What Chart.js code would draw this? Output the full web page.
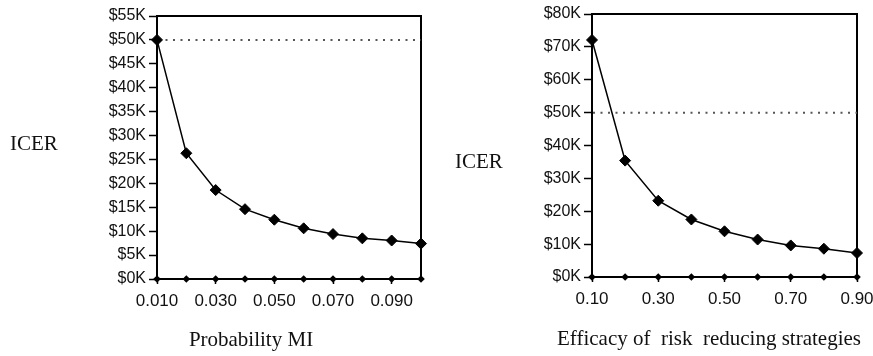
<!DOCTYPE html>
<html>
<head>
<meta charset="utf-8">
<script src="https://cdn.jsdelivr.net/npm/chart.js@4.4.1/dist/chart.umd.min.js"></script>
<style>
  html, body { margin: 0; padding: 0; background: #fff; }
  #wrap { position: relative; width: 873px; height: 356px; overflow: hidden; background: #fff; }
  canvas { position: absolute; top: 0; }
  .lbl {
    position: absolute; font-family: "Liberation Serif", "Times New Roman", serif;
    font-size: 21px; line-height: 1; color: #111; white-space: nowrap;
  }
  .ctr { transform: translateX(-50%); }
</style>
</head>
<body>
<div id="wrap">
  <canvas id="chartMI" width="436" height="356" style="left:0px"></canvas>
  <canvas id="chartEff" width="437" height="356" style="left:436px"></canvas>
  <div class="lbl" style="left:10px; top:133px;">ICER</div>
  <div class="lbl" style="left:455px; top:151px;">ICER</div>
  <div class="lbl ctr" style="left:251px; top:329px;">Probability MI</div>
  <div class="lbl ctr" style="left:709px; top:328px;">Efficacy of&nbsp; risk&nbsp; reducing strategies</div>
</div>
<script>
// Sensitivity of ICER to the probability of MI
const probLabels = ['0.010', '0.020', '0.030', '0.040', '0.050', '0.060', '0.070', '0.080', '0.090', '0.100'];
const icerByProb = [50000, 26300, 18600, 14600, 12400, 10600, 9400, 8500, 8050, 7400];
const baselineByProb = [0, 0, 0, 0, 0, 0, 0, 0, 0, 0];

// Sensitivity of ICER to the efficacy of risk reducing strategies
const efficacyLabels = ['0.10', '0.20', '0.30', '0.40', '0.50', '0.60', '0.70', '0.80', '0.90'];
const icerByEfficacy = [72100, 35400, 23200, 17500, 13900, 11400, 9600, 8600, 7300];
const baselineByEfficacy = [0, 0, 0, 0, 0, 0, 0, 0, 0];

// Willingness-to-pay threshold
const wtpThreshold = 50000;

const yTicksMI = { max: 55000, step: 5000 };
const yTicksEff = { max: 80000, step: 10000 };

const yFont = { family: '"Liberation Sans", Arial, sans-serif', size: 16 };
const xFont = { family: '"Liberation Sans", Arial, sans-serif', size: 17 };

// Closes the plot frame on the top and right sides
const framePlugin = {
  id: 'frame',
  beforeDatasetsDraw(chart) {
    const { ctx, chartArea: a } = chart;
    ctx.save();
    ctx.strokeStyle = '#000';
    ctx.lineWidth = 2;
    ctx.beginPath();
    ctx.moveTo(a.left, a.top);
    ctx.lineTo(a.right, a.top);
    ctx.lineTo(a.right, a.bottom);
    ctx.stroke();
    ctx.restore();
  }
};

function buildChart(canvasId, labels, values, zeros, yCfg, pad) {
  return new Chart(document.getElementById(canvasId), {
    type: 'line',
    data: {
      labels: labels,
      datasets: [
        {
          data: values,
          borderColor: '#000', borderWidth: 1.5,
          pointStyle: 'rectRot', pointRadius: 5.5,
          pointBackgroundColor: '#000', pointBorderColor: '#000', pointBorderWidth: 1,
          tension: 0, clip: false, order: 1
        },
        {
          data: zeros,
          borderColor: '#000', borderWidth: 2,
          pointStyle: 'rectRot', pointRadius: 3.8,
          pointBackgroundColor: '#000', pointBorderColor: '#000', pointBorderWidth: 0,
          tension: 0, clip: false, order: 2
        },
        {
          data: labels.map(() => wtpThreshold),
          borderColor: '#555', borderWidth: 2,
          borderDash: [2, 5.5], borderDashOffset: -16,
          pointRadius: 0, tension: 0, order: 3
        }
      ]
    },
    options: {
      responsive: false,
      animation: false,
      events: [],
      layout: { padding: pad },
      plugins: { legend: { display: false }, tooltip: { enabled: false } },
      scales: {
        x: {
          type: 'category',
          offset: false,
          grid: {
            drawOnChartArea: false, drawTicks: true, tickLength: 5, tickWidth: 1.5,
            tickColor: (c) => (c.index % 2 === 0 ? '#000' : 'rgba(0,0,0,0)')
          },
          border: { display: true, color: '#000', width: 2 },
          ticks: {
            autoSkip: false, maxRotation: 0, padding: 7, color: '#111', font: xFont,
            callback: function (v, i) { return i % 2 === 0 ? this.getLabelForValue(v) : ''; }
          },
          afterFit(s) { s.height = 60; s.paddingLeft = 0; s.paddingRight = 0; }
        },
        y: {
          min: 0, max: yCfg.max,
          grid: { drawOnChartArea: false, drawTicks: true, tickLength: 8, tickWidth: 1.5, tickColor: '#000' },
          border: { display: true, color: '#000', width: 2 },
          ticks: {
            stepSize: yCfg.step, padding: 3, color: '#111', font: yFont,
            callback: (v) => '$' + Math.round(v / 1000) + 'K'
          },
          afterFit(s) { s.width = 97; s.paddingTop = 0; s.paddingBottom = 0; }
        }
      }
    },
    plugins: [framePlugin]
  });
}

buildChart('chartMI', probLabels, icerByProb, baselineByProb, yTicksMI,
  { left: 60, right: 15, top: 16, bottom: 17 });
buildChart('chartEff', efficacyLabels, icerByEfficacy, baselineByEfficacy, yTicksEff,
  { left: 59, right: 16, top: 14, bottom: 19 });
</script>
</body>
</html>
